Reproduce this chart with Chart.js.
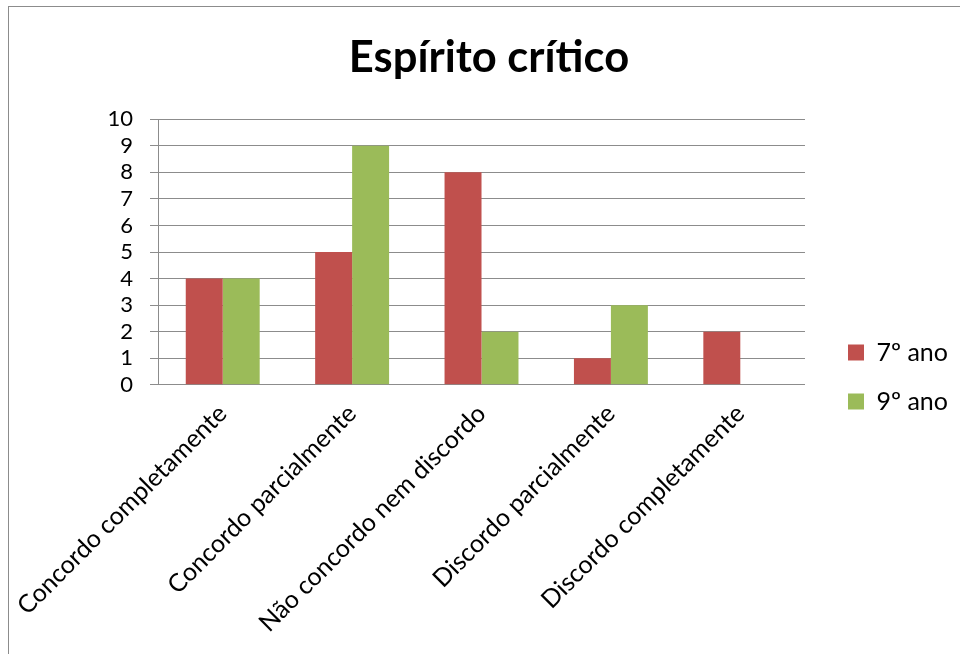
<!DOCTYPE html>
<html>
<head>
<meta charset="utf-8">
<script src="https://cdn.jsdelivr.net/npm/chart.js@4.4.1/dist/chart.umd.min.js"></script>
<style>
  html, body { margin: 0; padding: 0; background: #fff; overflow: hidden; }
  .frame { position: absolute; left: 8px; top: 6px; width: 1000px; height: 1000px; border: 1px solid #8c8c8c; }
  .wrap { position: absolute; left: 0; top: 0; width: 960px; height: 654px; }
</style>
</head>
<body>
<div class="frame"></div>
<div class="wrap"><canvas id="chart" width="960" height="654"></canvas></div>
<script>
const categories = [
  'Concordo completamente',
  'Concordo parcialmente',
  'Não concordo nem discordo',
  'Discordo parcialmente',
  'Discordo completamente'
];
const ano7 = [4, 5, 8, 1, 2];
const ano9 = [4, 9, 2, 3, 0];
const seriesNames = ['7º ano', '9º ano'];
const seriesColors = ['#C0504D', '#9BBB59'];

const gridGray = '#8c8c8c';
const fontFamily = 'Lato, "Open Sans", sans-serif';

const ctx = document.getElementById('chart');
new Chart(ctx, {
  type: 'bar',
  data: {
    labels: categories,
    datasets: [
      { label: seriesNames[0], data: ano7, backgroundColor: seriesColors[0] },
      { label: seriesNames[1], data: ano9, backgroundColor: seriesColors[1] }
    ]
  },
  options: {
    responsive: false,
    animation: false,
    events: [],
    categoryPercentage: 2 / 3.5,
    barPercentage: 1,
    layout: { padding: { left: 20, right: 2, top: 14, bottom: 10 } },
    plugins: {
      tooltip: { enabled: false },
      title: {
        display: true,
        text: 'Espírito crítico',
        color: '#000',
        font: { family: fontFamily, size: 43.5, weight: 'bold' },
        padding: { top: 18, bottom: 35 }
      },
      legend: {
        position: 'right',
        title: {
          display: true,
          text: ' ',
          font: { family: fontFamily, size: 10 },
          padding: { top: 0, bottom: 84 }
        },
        labels: {
          color: '#000',
          font: { family: fontFamily, size: 25 },
          boxWidth: 16,
          boxHeight: 16,
          padding: 24
        }
      }
    },
    scales: {
      x: {
        grid: { display: false },
        border: { display: false },
        ticks: {
          color: '#000',
          font: { family: fontFamily, size: 25 },
          minRotation: 45,
          maxRotation: 45,
          autoSkip: false,
          padding: 6
        }
      },
      y: {
        min: 0,
        max: 10,
        grid: { color: gridGray, lineWidth: 1, tickLength: 8, tickColor: gridGray },
        border: { display: true, color: gridGray, width: 1 },
        ticks: {
          stepSize: 1,
          autoSkip: false,
          color: '#000',
          font: { family: fontFamily, size: 22, lineHeight: 1 },
          padding: 17
        },
        afterFit(scale) { scale.width = 138; }
      },
      gap: {
        position: 'right',
        display: true,
        grid: { display: false },
        border: { display: false },
        ticks: { display: false },
        afterFit(scale) { scale.width = 19; }
      }
    }
  }
});
</script>
</body>
</html>
